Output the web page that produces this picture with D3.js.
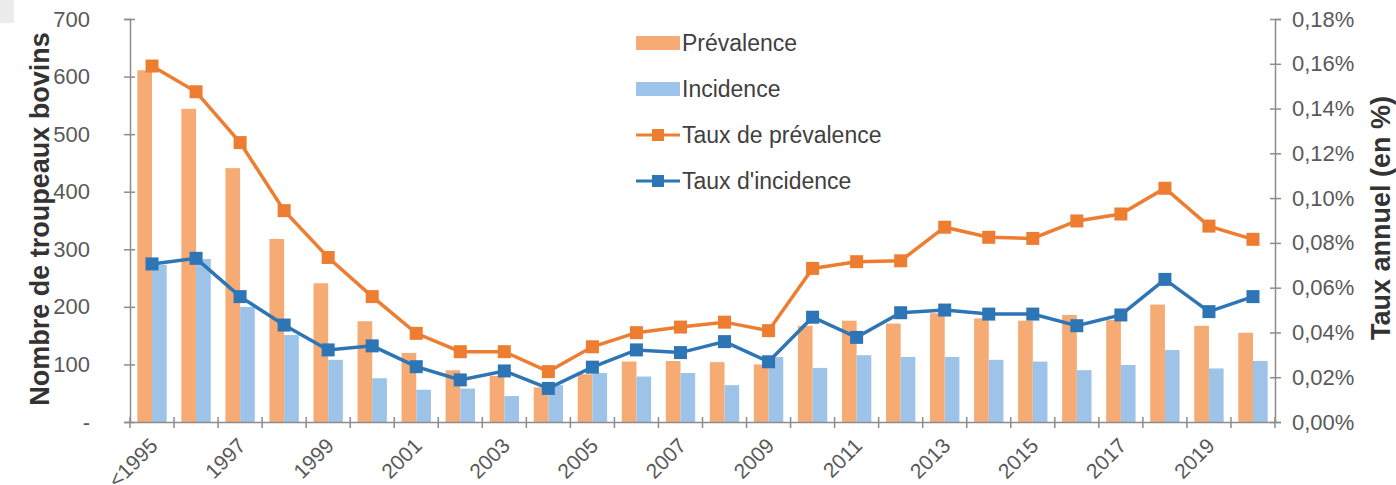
<!DOCTYPE html>
<html>
<head>
<meta charset="utf-8">
<script src="https://cdn.jsdelivr.net/npm/d3@7"></script>
<style>
  body { margin: 0; background: #fff; }
  svg { display: block; font-family: "Liberation Sans", Arial, sans-serif; }
</style>
</head>
<body>
<svg></svg>
<script>
// categories (years)
var years = ["<1995", "1996", "1997", "1998", "1999", "2000", "2001", "2002", "2003", "2004",
             "2005", "2006", "2007", "2008", "2009", "2010", "2011", "2012", "2013", "2014",
             "2015", "2016", "2017", "2018", "2019", "2020"];
var yearLabels = ["<1995", "1997", "1999", "2001", "2003", "2005", "2007", "2009", "2011", "2013", "2015", "2017", "2019"];

// number of herds (left axis)
var prevalence = [611, 544, 441, 318, 241, 175, 120, 90, 80, 60, 83, 105, 106, 104, 100,
                  167, 176, 171, 189, 180, 176, 186, 177, 204, 167, 155];
var incidence = [273, 283, 200, 151, 108, 76, 56, 58, 45, 64, 85, 79, 85, 64, 113,
                 94, 116, 113, 113, 108, 105, 90, 99, 125, 93, 106];

// annual rates in % (right axis)
var tauxPrev = [0.159, 0.1475, 0.1248, 0.0944, 0.0735, 0.056, 0.0396, 0.0314, 0.0314, 0.0225,
                0.0336, 0.0399, 0.0424, 0.0446, 0.0408, 0.0686, 0.0716, 0.072, 0.087, 0.0825,
                0.082, 0.0898, 0.0929, 0.1044, 0.0875, 0.0816];
var tauxInc = [0.0706, 0.0731, 0.056, 0.0433, 0.0322, 0.034, 0.0247, 0.0188, 0.0228, 0.015,
               0.0245, 0.0322, 0.031, 0.0359, 0.0269, 0.0468, 0.0378, 0.0488, 0.05, 0.0482,
               0.0482, 0.043, 0.0478, 0.0637, 0.0493, 0.056];

var leftTicks = [0, 100, 200, 300, 400, 500, 600, 700];
var rightTicks = [0, 0.02, 0.04, 0.06, 0.08, 0.10, 0.12, 0.14, 0.16, 0.18];

var width = 1396, height = 485;
var x0 = 130, x1 = 1275, yTop = 19, yBot = 422;

var svg = d3.select("svg").attr("width", width).attr("height", height);

var gray = "#595959";
var axisCol = "#8c8c8c";

// corner box
svg.append("rect").attr("x", 0).attr("y", 0).attr("width", 14).attr("height", 23).attr("fill", "#ececec");

var x = d3.scaleBand().domain(years).range([x0, x1]).paddingInner(0).paddingOuter(0);
var xSub = d3.scaleBand().domain(["p", "i"]).range([0, x.bandwidth()]).paddingOuter(0.5).paddingInner(0);
var yL = d3.scaleLinear().domain([0, 700]).range([yBot, yTop]);
var yR = d3.scaleLinear().domain([0, 0.18]).range([yBot, yTop]);

// bars
var groups = svg.append("g").selectAll("g")
  .data(years)
  .enter().append("g")
  .attr("transform", d => "translate(" + x(d) + ",0)");

groups.append("rect")
  .attr("x", xSub("p"))
  .attr("width", xSub.bandwidth())
  .attr("y", (d, i) => yL(prevalence[i]))
  .attr("height", (d, i) => yBot - yL(prevalence[i]))
  .attr("fill", "#f6ab74");

groups.append("rect")
  .attr("x", xSub("i"))
  .attr("width", xSub.bandwidth())
  .attr("y", (d, i) => yL(incidence[i]))
  .attr("height", (d, i) => yBot - yL(incidence[i]))
  .attr("fill", "#9dc3e8");

// axes
var axL = svg.append("g").attr("transform", "translate(" + x0 + ",0)")
  .call(d3.axisLeft(yL).tickValues(leftTicks).tickSize(6).tickFormat(d => d === 0 ? "-" : d));
var axR = svg.append("g").attr("transform", "translate(" + x1 + ",0)")
  .call(d3.axisRight(yR).tickValues(rightTicks).tickSize(6)
    .tickFormat(d => d3.format(".2f")(d).replace(".", ",") + "%"));
var axB = svg.append("g").attr("transform", "translate(0," + yBot + ")")
  .call(d3.axisBottom(x).tickSize(0).tickFormat(""));

[axL, axR, axB].forEach(function(a) {
  a.select(".domain").attr("stroke", axisCol).attr("stroke-width", 1.5);
  a.selectAll(".tick line").attr("stroke", axisCol).attr("stroke-width", 1.5);
});
axL.selectAll(".tick text").attr("x", -40).attr("fill", gray).style("font-size", "22px")
  .style("font-family", "Liberation Sans, Arial, sans-serif");
axR.selectAll(".tick text").attr("x", 17).attr("fill", gray).style("font-size", "22px")
  .style("font-family", "Liberation Sans, Arial, sans-serif");
axL.selectAll(".tick line").attr("x1", -6).attr("x2", 5);
axR.selectAll(".tick line").attr("x1", -5).attr("x2", 6);

// category boundary ticks on the x axis
svg.append("g").selectAll("line")
  .data(years.concat(["end"]))
  .enter().append("line")
  .attr("x1", (d, i) => x0 + i * x.bandwidth())
  .attr("x2", (d, i) => x0 + i * x.bandwidth())
  .attr("y1", yBot - 5).attr("y2", yBot + 6)
  .attr("stroke", axisCol).attr("stroke-width", 1.5);

// x labels
svg.append("g").selectAll("text")
  .data(yearLabels)
  .enter().append("text")
  .attr("transform", (d, i) => {
    var cx = x(years[i * 2]) + x.bandwidth() / 2 + 7;
    return "translate(" + cx + "," + (yBot + 25) + ") rotate(-45)";
  })
  .attr("text-anchor", "end")
  .attr("fill", gray)
  .style("font-size", "21px")
  .text(d => d);

// lines
var lineGen = d3.line().x((d, i) => x(years[i]) + x.bandwidth() / 2).y(d => yR(d));

function drawSeries(values, color) {
  svg.append("path")
    .datum(values)
    .attr("d", lineGen)
    .attr("fill", "none")
    .attr("stroke", color)
    .attr("stroke-width", 3.5);
  svg.append("g").selectAll("rect")
    .data(values)
    .enter().append("rect")
    .attr("x", (d, i) => x(years[i]) + x.bandwidth() / 2 - 6.5)
    .attr("y", d => yR(d) - 6.5)
    .attr("width", 13).attr("height", 13)
    .attr("fill", color);
}
drawSeries(tauxPrev, "#ed7d31");
drawSeries(tauxInc, "#2e75b6");

// axis titles
svg.append("text")
  .attr("transform", "translate(49,219) rotate(-90)")
  .attr("text-anchor", "middle")
  .attr("fill", "#333")
  .style("font-size", "27px").style("font-weight", "bold")
  .text("Nombre de troupeaux bovins");
svg.append("text")
  .attr("transform", "translate(1390,218) rotate(-90)")
  .attr("text-anchor", "middle")
  .attr("fill", "#333")
  .style("font-size", "27px").style("font-weight", "bold")
  .text("Taux annuel (en %)");

// legend
var legendItems = [
  { name: "Prévalence", type: "bar", color: "#f6ab74" },
  { name: "Incidence", type: "bar", color: "#9dc3e8" },
  { name: "Taux de prévalence", type: "line", color: "#ed7d31" },
  { name: "Taux d'incidence", type: "line", color: "#2e75b6" }
];
var lg = svg.append("g").selectAll("g")
  .data(legendItems)
  .enter().append("g")
  .attr("transform", (d, i) => "translate(636," + (43 + i * 46) + ")");
lg.filter(d => d.type === "bar").append("rect")
  .attr("x", 0).attr("y", -7).attr("width", 44).attr("height", 14)
  .attr("fill", d => d.color);
lg.filter(d => d.type === "line").append("line")
  .attr("x1", 0).attr("x2", 44).attr("y1", 0).attr("y2", 0)
  .attr("stroke", d => d.color).attr("stroke-width", 3);
lg.filter(d => d.type === "line").append("rect")
  .attr("x", 16).attr("y", -6).attr("width", 12).attr("height", 12)
  .attr("fill", d => d.color);
lg.append("text")
  .attr("x", 46).attr("y", 0).attr("dy", "0.36em")
  .attr("fill", "#404040")
  .style("font-size", "23px")
  .text(d => d.name);
</script>
</body>
</html>
